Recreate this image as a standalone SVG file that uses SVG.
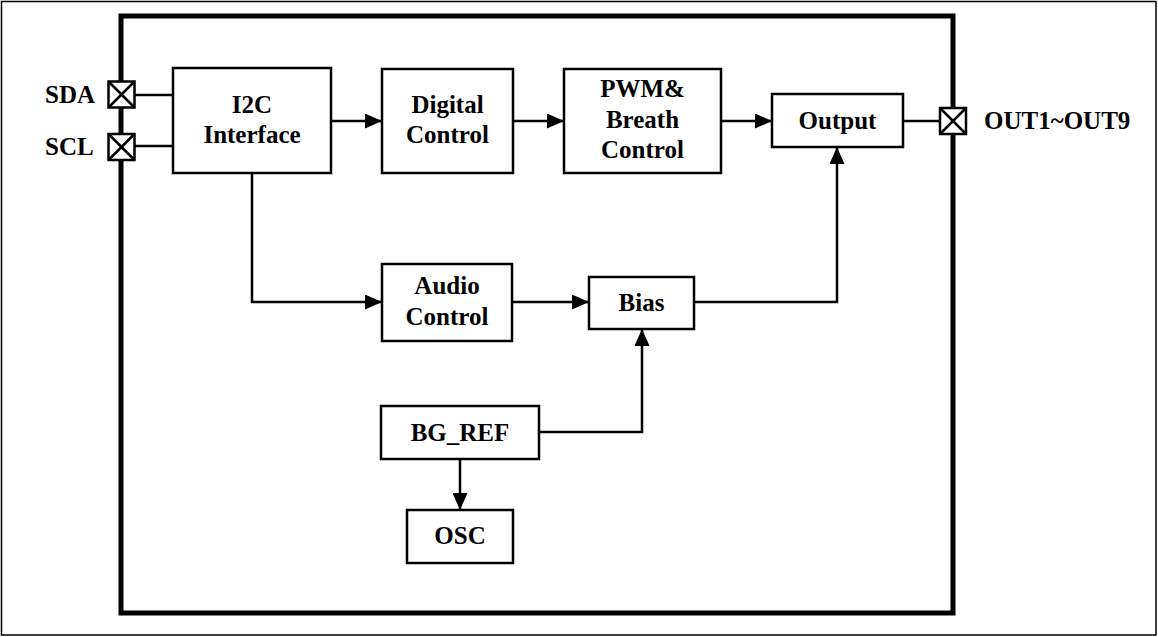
<svg xmlns="http://www.w3.org/2000/svg" width="1158" height="637" viewBox="0 0 1158 637">
<style>
.box{fill:#fff;stroke:#000;stroke-width:2.5}
.pad{fill:#fff;stroke:#000;stroke-width:2.5}
.t{font-family:"Liberation Serif","Times New Roman",serif;font-weight:bold;font-size:25px;fill:#000;text-anchor:middle}
.tl{font-family:"Liberation Serif","Times New Roman",serif;font-weight:bold;font-size:25px;fill:#000}
.w{fill:none;stroke:#000;stroke-width:2.5}
</style>
<defs>
<marker id="arr" markerUnits="userSpaceOnUse" markerWidth="18" markerHeight="15" refX="17" refY="7.5" orient="auto">
<path d="M0,0 L17,7.5 L0,15 Z" fill="#000"/>
</marker>
</defs>
<rect width="1158" height="637" fill="#fff"/>
<rect x="1.5" y="1.5" width="1154.5" height="633.5" fill="none" stroke="#000" stroke-width="1.5"/>
<rect id="chip" x="121" y="16" width="832" height="597" fill="none" stroke="#000" stroke-width="5"/>
<g id="connectors">
<line class="w" x1="135" y1="95" x2="173" y2="95"/>
<line class="w" x1="135" y1="146" x2="173" y2="146"/>
<line class="w" x1="331" y1="121" x2="382" y2="121" marker-end="url(#arr)"/>
<line class="w" x1="513" y1="121" x2="564" y2="121" marker-end="url(#arr)"/>
<line class="w" x1="721" y1="121" x2="772" y2="121" marker-end="url(#arr)"/>
<line class="w" x1="903" y1="121" x2="940" y2="121"/>
<polyline class="w" points="252,173 252,302 382,302" marker-end="url(#arr)"/>
<line class="w" x1="512" y1="302" x2="589" y2="302" marker-end="url(#arr)"/>
<polyline class="w" points="694,302 837,302 837,147" marker-end="url(#arr)"/>
<polyline class="w" points="539,432 642,432 642,329" marker-end="url(#arr)"/>
<line class="w" x1="460" y1="459" x2="460" y2="510" marker-end="url(#arr)"/>
</g>
<g id="pad-sda">
<rect class="pad" x="108.5" y="81.5" width="26" height="26"/>
<path class="w" d="M108.5,81.5 L134.5,107.5 M134.5,81.5 L108.5,107.5"/>
<text class="tl" x="45" y="103">SDA</text>
</g>
<g id="pad-scl">
<rect class="pad" x="108.5" y="134" width="26" height="26"/>
<path class="w" d="M108.5,134 L134.5,160 M134.5,134 L108.5,160"/>
<text class="tl" x="45" y="155">SCL</text>
</g>
<g id="pad-out">
<rect class="pad" x="940" y="108" width="26" height="26"/>
<path class="w" d="M940,108 L966,134 M966,108 L940,134"/>
<text class="tl" x="984" y="129">OUT1~OUT9</text>
</g>
<g id="i2c">
<rect class="box" x="173" y="68" width="158" height="105"/>
<text class="t" x="252" y="113">I2C</text>
<text class="t" x="252" y="143">Interface</text>
</g>
<g id="digital">
<rect class="box" x="382" y="69" width="131" height="104"/>
<text class="t" x="447.5" y="113">Digital</text>
<text class="t" x="447.5" y="143">Control</text>
</g>
<g id="pwm">
<rect class="box" x="564" y="69" width="157" height="104"/>
<text class="t" x="642.5" y="97">PWM&amp;</text>
<text class="t" x="642.5" y="128">Breath</text>
<text class="t" x="642.5" y="158">Control</text>
</g>
<g id="output">
<rect class="box" x="772" y="94" width="131" height="53"/>
<text class="t" x="837.5" y="129">Output</text>
</g>
<g id="audio">
<rect class="box" x="382" y="264" width="130" height="77"/>
<text class="t" x="447" y="294">Audio</text>
<text class="t" x="447" y="325">Control</text>
</g>
<g id="bias">
<rect class="box" x="589" y="277" width="105" height="52"/>
<text class="t" x="641.5" y="311">Bias</text>
</g>
<g id="bgref">
<rect class="box" x="381" y="406" width="158" height="53"/>
<text class="t" x="460" y="441">BG_REF</text>
</g>
<g id="osc">
<rect class="box" x="407" y="510" width="106" height="53"/>
<text class="t" x="460" y="544">OSC</text>
</g>
</svg>
